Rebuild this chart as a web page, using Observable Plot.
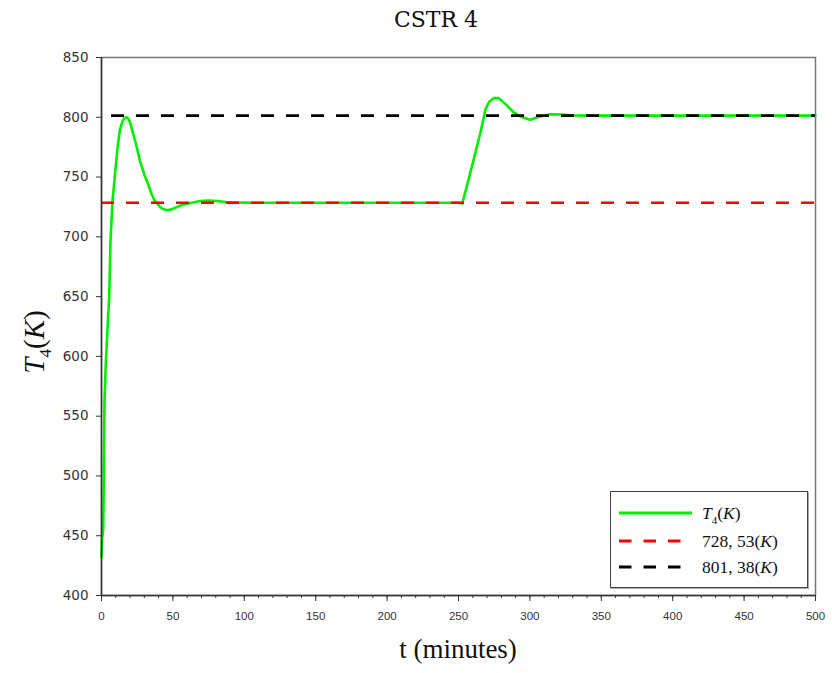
<!DOCTYPE html>
<html>
<head>
<meta charset="utf-8">
<script src="https://cdn.jsdelivr.net/npm/d3@7"></script>
<script src="https://cdn.jsdelivr.net/npm/@observablehq/plot@0.6"></script>
<style>
  body { margin: 0; background: #fff; }
  #wrap { position: relative; width: 832px; height: 673px; overflow: hidden; }
  #title { position: absolute; top: 7px; left: 436px; transform: translateX(-50%); font: 22px "DejaVu Serif", serif; color: #111; white-space: nowrap; }
  #xlab { position: absolute; top: 634px; left: 458px; transform: translateX(-50%); font: 27px "Liberation Serif", serif; color: #111; white-space: nowrap; }
  #ylab { position: absolute; left: 37px; top: 342px; transform: translate(-50%, -50%) rotate(-90deg); font: 29px "Liberation Serif", serif; color: #111; white-space: nowrap; }
  #ylab sub { font-size: 17px; }
  #legend { position: absolute; left: 610px; top: 491px; width: 196px; height: 95px; border: 1.5px solid #444; box-shadow: 1px 1px 0 #aaa; background: #fff; }
  .lrow { position: absolute; left: 0; height: 20px; width: 196px; }
  .lrow svg { position: absolute; left: 8px; top: 0; }
  .lrow span { position: absolute; left: 91px; top: 0; font: 17.5px "Liberation Serif", serif; color: #111; white-space: nowrap; line-height: 20px; }
  .lrow sub { font-size: 11px; }
  svg g[aria-label="y-axis tick label"] text { font-family: "DejaVu Sans", sans-serif; font-size: 13.5px; fill: #333; }
  svg g[aria-label="x-axis tick label"] text { font-family: "Liberation Sans", sans-serif; font-size: 11.5px; fill: #333; }
</style>
</head>
<body>
<div id="wrap">
  <div id="title">CSTR 4</div>
  <div id="ylab"><i>T</i><sub>4</sub>(<i>K</i>)</div>
  <div id="xlab">t (minutes)</div>
</div>
<script>
// Time (minutes) and reactor temperature T4 (K)
const tMin = [0, 0.5, 1.2, 1.6, 2.1, 3, 3.5, 4.5, 5.4, 6.3, 7.7, 9.3, 11, 12.8, 14.5, 16, 17.5, 19, 20.5, 22.2, 24.5, 26.8, 30, 32.7, 35, 37.3, 39, 41, 43, 45, 47, 50, 53, 56, 60, 65, 69, 75, 81, 87, 95, 110, 150, 200, 250, 252.6, 256, 260.7, 265.4, 269, 271.5, 274.7, 278.2, 283, 288.7, 294.6, 300.4, 306.2, 314.4, 322, 330.7, 340, 400, 500];
const tempK = [432, 448, 455, 500, 563, 594, 606, 630, 649, 697, 730, 750, 772, 789, 796, 799.3, 800, 798.5, 794, 786, 776, 764, 752, 744, 736, 730, 728, 725, 723.3, 722.6, 722.5, 723.5, 725, 726.5, 727.6, 729, 730, 730.3, 730, 729, 728.7, 728.5, 728.5, 728.5, 728.5, 727.8, 743, 765, 787.5, 807, 813, 816, 816, 811, 804, 800, 798, 800.5, 802.5, 802.3, 801.5, 801.4, 801.4, 801.4];
const setpoints = [728.53, 801.38];
const setpointColors = ["#ff0000", "#000000"];
const xTicks = [0, 50, 100, 150, 200, 250, 300, 350, 400, 450, 500];
const xMinorTicks = d3.range(0, 501, 10);
const yTicks = [400, 450, 500, 550, 600, 650, 700, 750, 800, 850];
const legendLabels = ["<i>T</i><sub>4</sub>(<i>K</i>)", "728, 53(<i>K</i>)", "801, 38(<i>K</i>)"];
const legendColors = ["#00ee00", "#ff0000", "#000000"];

const data = tMin.map((t, i) => ({t, T: tempK[i]}));

const chart = Plot.plot({
  width: 832,
  height: 673,
  marginTop: 57,
  marginRight: 17,
  marginBottom: 78,
  marginLeft: 101,
  x: {domain: [0, 500], label: null},
  y: {domain: [400, 850], label: null},
  marks: [
    Plot.frame({stroke: "#777", strokeWidth: 1.5}),
    Plot.line(data, {x: "t", y: "T", stroke: "#00ee00", strokeWidth: 2.6}),
    Plot.ruleY([setpoints[0]], {stroke: setpointColors[0], strokeWidth: 2.6, strokeDasharray: "13,12"}),
    Plot.ruleY([setpoints[1]], {stroke: setpointColors[1], strokeWidth: 2.6, strokeDasharray: "13,12", strokeDashoffset: -10}),
    Plot.ruleY([400], {stroke: "#333", strokeWidth: 1.5}),
    Plot.ruleX([0], {stroke: "#333", strokeWidth: 1.5}),
    Plot.axisX({ticks: xMinorTicks, tickSize: 3, text: null, stroke: "#333", label: null}),
    Plot.axisX({ticks: xTicks, tickSize: 6, tickPadding: 10, tickFormat: d => String(d), stroke: "#333", label: null}),
    Plot.axisY({ticks: yTicks, tickSize: 5, tickPadding: 8, tickFormat: d => String(d), stroke: "#333", label: null})
  ]
});
chart.style.position = "absolute";
chart.style.left = "0";
chart.style.top = "0";
const wrap = document.getElementById("wrap");
wrap.insertBefore(chart, wrap.firstChild);

// legend
const legend = document.createElement("div");
legend.id = "legend";
const rowTops = [11, 39, 65];
legendLabels.forEach((lab, i) => {
  const row = document.createElement("div");
  row.className = "lrow";
  row.style.top = rowTops[i] + "px";
  const dash = i === 0 ? "" : ` stroke-dasharray="12.5,12"`;
  row.innerHTML = `<svg width="74" height="20"><line x1="0" x2="73" y1="10" y2="10" stroke="${legendColors[i]}" stroke-width="3"${dash}/></svg><span>${lab}</span>`;
  legend.appendChild(row);
});
wrap.appendChild(legend);
</script>
</body>
</html>
